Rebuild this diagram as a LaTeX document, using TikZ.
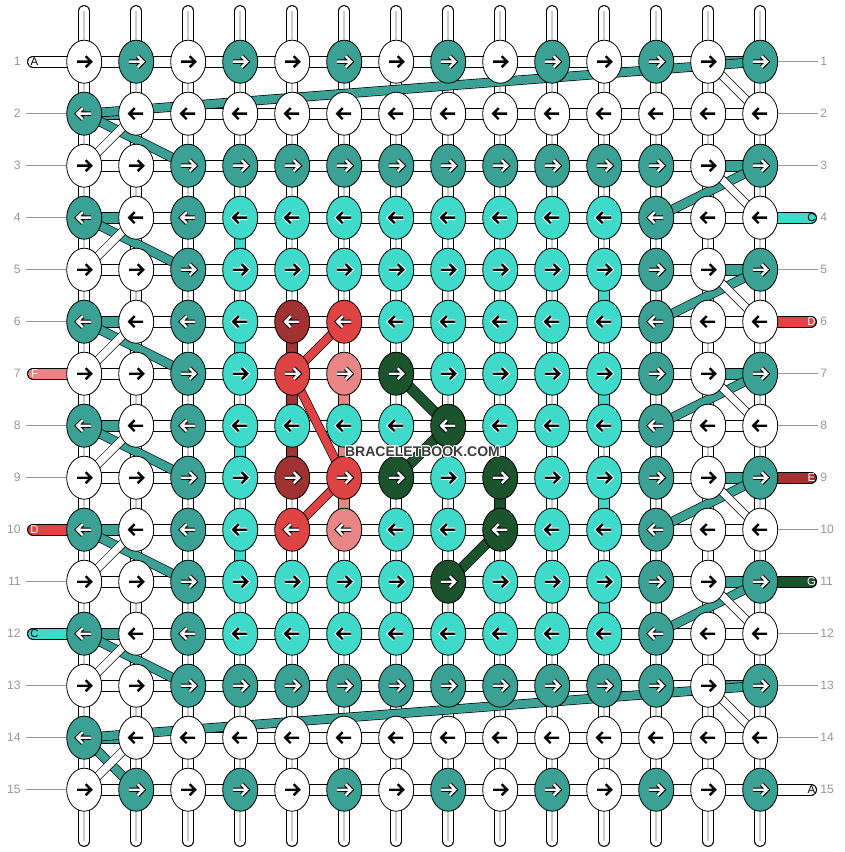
\documentclass[tikz,border=0pt]{standalone}
\usepackage{fontspec}
\setmainfont{Liberation Sans}
\usetikzlibrary{shapes.geometric}
\pgfdeclarelayer{lA}\pgfdeclarelayer{lB}\pgfdeclarelayer{lC}\pgfdeclarelayer{lD}
\pgfsetlayers{lA,lB,lC,lD,main}
\definecolor{cW}{RGB}{255,255,255}
\definecolor{cT}{RGB}{58,161,148}
\definecolor{cQ}{RGB}{64,218,202}
\definecolor{cD}{RGB}{160,50,50}
\definecolor{cR}{RGB}{222,68,68}
\definecolor{cP}{RGB}{232,134,134}
\definecolor{cG}{RGB}{27,84,44}
\definecolor{lbl}{RGB}{150,150,150}
\definecolor{wmgray}{RGB}{60,60,60}
\begin{document}
\begin{tikzpicture}[x=0.75pt,y=-0.75pt,
  knot/.style={ellipse,draw=black,line width=0.6pt,minimum width=26.25pt,minimum height=32.25pt,inner sep=0pt},
  arrowline/.style={line cap=butt,line join=miter},
  aoW/.style={draw=none}, aiW/.style={draw=black},
  aoQ/.style={draw=white}, aiQ/.style={draw=black},
  aoT/.style={draw=black}, aiT/.style={draw=white},
  aoD/.style={draw=black}, aiD/.style={draw=white},
  aoR/.style={draw=black}, aiR/.style={draw=white},
  aoP/.style={draw=black}, aiP/.style={draw=white},
  aoG/.style={draw=black}, aiG/.style={draw=white},
  warp/.style={draw=black,line width=0.75pt,double=white,double distance=7.3pt,line cap=round},
  warpline/.style={draw=black!20,line width=1.1pt},
  hband/.style={draw=black,line width=0.75pt,double=white,double distance=7.5pt},
  tband/.style={draw=black,line width=0.75pt,double=cT,double distance=7.5pt},
  vseg/.style={draw=black,line width=0.75pt,double distance=7.3pt},
  stub/.style={draw=black,line width=0.75pt,double distance=7.5pt,line cap=round},
  tdiag/.style={draw=black,line width=0.5pt,double=cT,double distance=6.2pt},
  rdiag/.style={draw=black,line width=0.5pt,double=cR,double distance=5.8pt},
  gdiag/.style={draw=black,line width=0.5pt,double=cG,double distance=7pt},
  wdiag/.style={draw=black,line width=0.5pt,double=white,double distance=5.5pt},
  rowlbl/.style={text=lbl,font=\fontsize{9.1pt}{10pt}\selectfont,inner sep=0pt},
  rowline/.style={draw=lbl,line width=0.75pt},
  stubtxt/.style={font=\fontsize{8.5pt}{9pt}\selectfont,inner sep=0pt},
  wm/.style={font=\fontsize{10.5pt}{11pt}\selectfont\bfseries,inner sep=0pt}
]
\useasboundingbox (0,0) rectangle (844,852);
% knots
\foreach \r/\d/\codes in {
 1/1/{W,T,W,T,W,T,W,T,W,T,W,T,W,T},
 2/-1/{T,W,W,W,W,W,W,W,W,W,W,W,W,W},
 3/1/{W,W,T,T,T,T,T,T,T,T,T,T,W,T},
 4/-1/{T,W,T,Q,Q,Q,Q,Q,Q,Q,Q,T,W,W},
 5/1/{W,W,T,Q,Q,Q,Q,Q,Q,Q,Q,T,W,T},
 6/-1/{T,W,T,Q,D,R,Q,Q,Q,Q,Q,T,W,W},
 7/1/{W,W,T,Q,R,P,G,Q,Q,Q,Q,T,W,T},
 8/-1/{T,W,T,Q,Q,Q,Q,G,Q,Q,Q,T,W,W},
 9/1/{W,W,T,Q,D,R,G,Q,G,Q,Q,T,W,T},
 10/-1/{T,W,T,Q,R,P,Q,Q,G,Q,Q,T,W,W},
 11/1/{W,W,T,Q,Q,Q,Q,G,Q,Q,Q,T,W,T},
 12/-1/{T,W,T,Q,Q,Q,Q,Q,Q,Q,Q,T,W,W},
 13/1/{W,W,T,T,T,T,T,T,T,T,T,T,W,T},
 14/-1/{T,W,W,W,W,W,W,W,W,W,W,W,W,W},
 15/1/{W,T,W,T,W,T,W,T,W,T,W,T,W,T}} {
  \foreach \k [count=\c] in \codes {
    \pgfmathsetmacro\x{84.2+52*(\c-1)}
    \pgfmathsetmacro\y{61.7+52*(\r-1)}
    \node[knot,fill=c\k] (k-\r-\c) at (\x,\y) {};
    \draw[arrowline,ao\k,line width=3.3pt] ({\x-7*\d},\y) -- ({\x+6*\d},\y) ({\x+1.5*\d},{\y-5.5}) -- ({\x+7*\d},\y) -- ({\x+1.5*\d},{\y+5.5});
    \draw[arrowline,ai\k,line width=1.8pt] ({\x-7*\d},\y) -- ({\x+6*\d},\y) ({\x+1.5*\d},{\y-5.5}) -- ({\x+7*\d},\y) -- ({\x+1.5*\d},{\y+5.5});
  }
}
% base strings
\begin{pgfonlayer}{lA}
\foreach \c in {1,...,14} {
  \pgfmathsetmacro\x{84.2+52*(\c-1)}
  \coordinate (top-\c) at (\x,11);
  \coordinate (bot-\c) at (\x,841);
  \draw[warp] (top-\c) -- (bot-\c);
  \draw[warpline] (top-\c) -- (bot-\c);
}
\foreach \r in {1,...,15} \draw[hband] (k-\r-1.center) -- (k-\r-14.center);
\end{pgfonlayer}
% coloured straight pieces and stubs
\begin{pgfonlayer}{lB}
\foreach \r in {2,4,...,14} \draw[tband] (k-\r-1.center) -- (k-\r-2.center);
\foreach \r in {1,3,...,13} \draw[tband] (k-\r-13.center) -- (k-\r-14.center);
\foreach \c/\a/\b/\col in {4/4/5/cQ,4/6/7/cQ,4/8/9/cQ,4/10/11/cQ,
  11/5/6/cQ,11/7/8/cQ,11/9/10/cQ,11/11/12/cQ,
  5/6/7/cD,5/7/8/cD,5/8/9/cD,6/7/8/cP,6/8/9/cP,6/9/10/cP,9/9/10/cG}
  \draw[vseg,double=\col] (k-\a-\c.center) -- (k-\b-\c.center);
\foreach \r/\col in {1/cW,7/cP,10/cR,12/cQ} {
  \pgfmathsetmacro\y{61.7+52*(\r-1)}
  \coordinate (ls-\r) at (33,\y);
  \draw[stub,double=\col] (ls-\r) -- (k-\r-1.center);
}
\foreach \r/\col in {4/cQ,6/cR,9/cD,11/cG,15/cW} {
  \pgfmathsetmacro\y{61.7+52*(\r-1)}
  \coordinate (rs-\r) at (811,\y);
  \draw[stub,double=\col] (k-\r-14.center) -- (rs-\r);
}
\end{pgfonlayer}
% diagonal coloured threads
\begin{pgfonlayer}{lC}
\draw[tdiag] (k-1-14.center) -- (k-2-1.center);
\draw[tdiag] (k-13-14.center) -- (k-14-1.center);
\foreach \o [evaluate=\o as \n using int(\o+1)] in {3,5,7,9,11}
  \draw[tdiag] (k-\o-14.center) -- (k-\n-12.center);
\foreach \e [evaluate=\e as \n using int(\e+1)] in {2,4,6,8,10,12}
  \draw[tdiag] (k-\e-1.center) -- (k-\n-3.center);
\draw[tdiag] (k-14-1.center) -- (k-15-2.center);
\draw[rdiag] (k-6-6.center) -- (k-7-5.center);
\draw[rdiag] (k-7-5.center) -- (k-9-6.center);
\draw[rdiag] (k-9-6.center) -- (k-10-5.center);
\draw[gdiag] (k-7-7.center) -- (k-8-8.center);
\draw[gdiag] (k-8-8.center) -- (k-9-7.center);
\draw[gdiag] (k-10-9.center) -- (k-11-8.center);
\end{pgfonlayer}
% white diagonal threads
\begin{pgfonlayer}{lD}
\foreach \o [evaluate=\o as \n using int(\o+1)] in {1,3,5,7,9,11,13}
  \draw[wdiag] (k-\o-13.center) -- (k-\n-14.center);
\foreach \e [evaluate=\e as \n using int(\e+1)] in {2,4,6,8,10,12,14}
  \draw[wdiag] (k-\n-1.center) -- (k-\e-2.center);
\end{pgfonlayer}
% row numbers
\foreach \r in {1,...,15} {
  \pgfmathsetmacro\y{61.7+52*(\r-1)}
  \node[rowlbl,anchor=east] (nl-\r) at (21,\y) {\r};
  \node[rowlbl,anchor=west] (nr-\r) at (820,\y) {\r};
}
\foreach \r in {2,3,4,5,6,8,9,11,13,14,15}
  \draw[rowline] ([xshift=3.75pt]nl-\r.east) -- (k-\r-1.west);
\foreach \r in {1,2,3,5,7,8,10,12,13,14}
  \draw[rowline] (k-\r-14.east) -- ([xshift=-1.5pt]nr-\r.west);
% stub letters
\foreach \r/\t/\tc in {1/A/black,7/F/white,10/D/white,12/C/black} {
  \pgfmathsetmacro\y{61.7+52*(\r-1)}
  \node[stubtxt,text=\tc] (lt-\r) at (34.5,\y) {\t};
}
\foreach \r/\t/\tc in {4/C/black,6/D/white,9/E/white,11/G/white,15/A/black} {
  \pgfmathsetmacro\y{61.7+52*(\r-1)}
  \node[stubtxt,text=\tc] (rt-\r) at (811.5,\y) {\t};
}
% watermark
\foreach \dx/\dy [count=\i] in {1/0,-1/0,0/1,0/-1,0.7/0.7,-0.7/0.7,0.7/-0.7,-0.7/-0.7}
  \node[wm,text=white] (wmh-\i) at ({422.5+\dx},{451.5+\dy}) {BRACELETBOOK.COM};
\node[wm,text=wmgray] (wm) at (422.5,451.5) {BRACELETBOOK.COM};
\end{tikzpicture}
\end{document}
